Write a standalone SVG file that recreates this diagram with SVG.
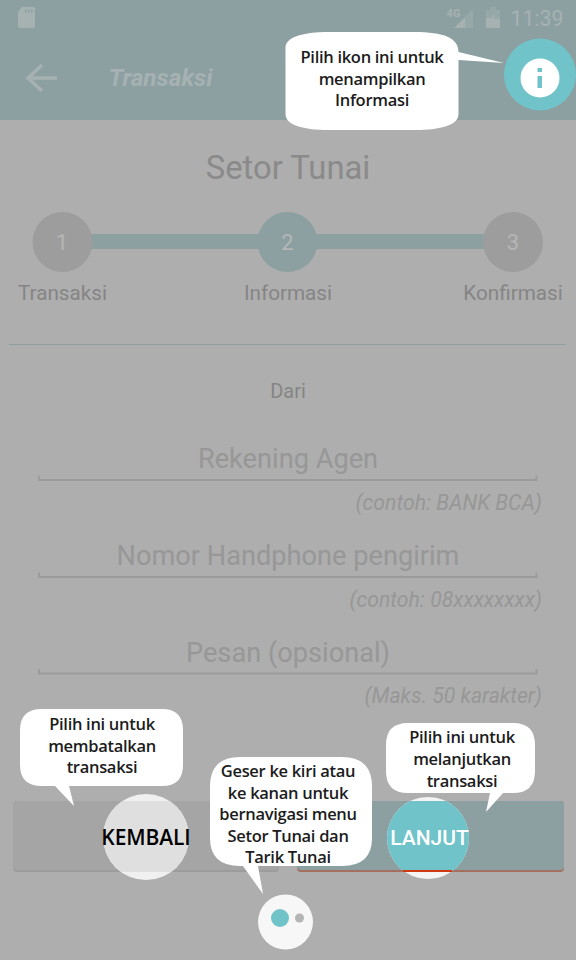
<svg xmlns="http://www.w3.org/2000/svg" width="576" height="960" viewBox="0 0 576 960">
<style>
text{font-family:Roboto,"Liberation Sans",sans-serif;text-anchor:middle}
.step{font-size:20.700px;fill:#858585}
.num{font-size:22px;fill:#b6b6b6}
.hold{font-size:27.200px;fill:#979797}
.hint{font-size:21.200px;font-style:italic;fill:#979797;text-anchor:end}
.inp{fill:none;stroke:#9b9b9b;stroke-width:1.800}
.bubble{fill:#fff}
.say{font-family:"Open Sans","Noto Sans",sans-serif;font-size:16.500px;font-weight:600;letter-spacing:-.3px;fill:#1c1c1c}
</style>
<defs>
<clipPath id="left-face"><rect x="13" y="801" width="266" height="71" rx="4"/></clipPath>
<clipPath id="right-face"><rect x="297" y="801" width="267" height="71" rx="4"/></clipPath>
</defs>
<rect width="576" height="960" fill="#aeaeae"/>
<g id="app-bar">
<rect width="576" height="120" fill="#8ca0a2"/>
<path d="M22 7h11a2 2 0 0 1 2 2v17a2 2 0 0 1-2 2H20a2 2 0 0 1-2-2V12z" fill="#a6b1b2"/>
<path d="M25 9.500h1.500v3H25zM28 9.500h1.500v3H28zM31 9.500h1.500v3H31z" fill="#8ca0a2"/>
<path d="M465 28V17L473 9V28z" fill="#97a8a9"/>
<path d="M454 28L465 17V28z" fill="#a6b1b2"/>
<text x="453.500" y="17" style="font-size:11px;font-weight:700;fill:#a6b1b2">4G</text>
<path d="M486 10h4v-3h6v3h4v18h-14z" fill="#97a8a9"/>
<path d="M486 18h6l3-4-1 5h6v9h-14z" fill="#a6b1b2"/>
<text x="537" y="26" style="font-size:21.300px;fill:#a6b1b2">11:39</text>
<path d="M57 78H31M42 65L28 78L42 91" fill="none" stroke="#a6b1b2" stroke-width="3.500"/>
<text x="160.500" y="86" style="font-size:24.400px;font-weight:700;font-style:italic;fill:#a6b1b2">Transaksi</text>
</g>
<g id="title"><text x="288" y="179" style="font-size:32.800px;fill:#8a8a8a">Setor Tunai</text></g>
<g id="connectors">
<rect x="62" y="234" width="451" height="15" fill="#8ca0a2"/>
<path d="M9 344.500H566" stroke="#8ca0a2" stroke-width="1.200"/>
</g>
<g id="step-1"><circle cx="62.500" cy="242" r="30" fill="#9d9d9d"/><text class="num" x="62" y="250">1</text><text class="step" x="62.500" y="300">Transaksi</text></g>
<g id="step-2"><circle cx="287.500" cy="242" r="30" fill="#8ca0a2"/><text class="num" x="287.500" y="250">2</text><text class="step" x="288" y="300">Informasi</text></g>
<g id="step-3"><circle cx="513" cy="242" r="30" fill="#9d9d9d"/><text class="num" x="513" y="250">3</text><text class="step" x="513" y="300">Konfirmasi</text></g>
<g id="from"><text x="288" y="398" style="font-size:20px;fill:#858585">Dari</text></g>
<g id="field-1"><text class="hold" x="288" y="468">Rekening Agen</text><path class="inp" d="M39 475.500V480H536.500V475.500"/><text class="hint" x="542" y="510">(contoh: BANK BCA)</text></g>
<g id="field-2"><text class="hold" x="288" y="565">Nomor Handphone pengirim</text><path class="inp" d="M39 572.500V577H536.500V572.500"/><text class="hint" x="542" y="607">(contoh: 08xxxxxxxx)</text></g>
<g id="field-3"><text class="hold" x="288" y="662">Pesan (opsional)</text><path class="inp" d="M39 669V673.500H536.500V669"/><text class="hint" x="542" y="703">(Maks. 50 karakter)</text></g>
<g id="btn-kembali">
<rect x="13" y="801" width="266" height="71" rx="4" fill="#9c9c9c"/>
<rect x="13" y="801" width="266" height="69" rx="4" fill="#a5a5a5"/>
<circle cx="146" cy="837" r="43" fill="#f0f0f0"/>
<circle cx="146" cy="837" r="43" fill="#dfdfdf" clip-path="url(#left-face)"/>
<text x="146" y="845" style="font-family:'Open Sans',sans-serif;font-size:21px;font-weight:600;letter-spacing:-.1px;fill:#000">KEMBALI</text>
</g>
<g id="btn-lanjut">
<rect x="297" y="801" width="267" height="71" rx="4" fill="#a5705f"/>
<rect x="297" y="801" width="267" height="69" rx="4" fill="#8ca0a2"/>
<circle cx="428" cy="838" r="41" fill="#f4f4f4"/>
<circle cx="428" cy="838" r="41" fill="#6fc3c9" clip-path="url(#right-face)"/>
<rect x="403" y="870" width="49" height="2" fill="#cf3a12"/>
<text x="429.500" y="845" style="font-size:21px;font-weight:500;fill:#fff">LANJUT</text>
</g>
<g id="info-icon">
<circle cx="540" cy="74.500" r="36" fill="#6fc3c9"/>
<circle cx="540" cy="78" r="19.500" fill="#fff"/>
<rect x="537.500" y="68" width="4.500" height="4" fill="#6fc3c9"/>
<rect x="537.500" y="76" width="4.500" height="12" fill="#6fc3c9"/>
</g>
<g id="pager">
<circle cx="285.500" cy="922" r="27.500" fill="#f7f7f7"/>
<circle cx="280" cy="918" r="9" fill="#6fc3c9"/>
<circle cx="299.500" cy="918" r="4.500" fill="#b5b5b5"/>
</g>
<g id="bubble-info">
<path class="bubble" d="M285.500 48C285.500 38 300 32 330 32H414C444 32 458.500 38 458.500 52L504 63L458.500 60V114C458.500 124 444 130 414 130H330C300 130 285.500 124 285.500 114z"/>
<text class="say" x="372" y="63">Pilih ikon ini untuk</text>
<text class="say" x="372" y="85">menampilkan</text>
<text class="say" x="372" y="106">Informasi</text>
</g>
<g id="bubble-kembali">
<path class="bubble" d="M42 709H162Q183 709 183 730V765Q183 786 162 786H69L74 806L55 786H42Q20 786 20 765V730Q20 709 42 709z"/>
<text class="say" x="102" y="730">Pilih ini untuk</text>
<text class="say" x="102" y="752">membatalkan</text>
<text class="say" x="102" y="773">transaksi</text>
</g>
<g id="bubble-lanjut">
<path class="bubble" d="M408 723H513Q535 723 535 745V771Q535 793 513 793H503L486 812L490 793H408Q386 793 386 771V745Q386 723 408 723z"/>
<text class="say" x="462" y="743">Pilih ini untuk</text>
<text class="say" x="462" y="765">melanjutkan</text>
<text class="say" x="462" y="787">transaksi</text>
</g>
<g id="bubble-geser">
<path class="bubble" d="M240 757H342Q372 757 372 787V838Q372 866 342 866H258L263 894L243 866H240Q210 866 210 838V787Q210 757 240 757z"/>
<text class="say" x="288" y="777">Geser ke kiri atau</text>
<text class="say" x="288" y="799">ke kanan untuk</text>
<text class="say" x="288" y="820">bernavigasi menu</text>
<text class="say" x="288" y="842">Setor Tunai dan</text>
<text class="say" x="288" y="863">Tarik Tunai</text>
</g>
</svg>
